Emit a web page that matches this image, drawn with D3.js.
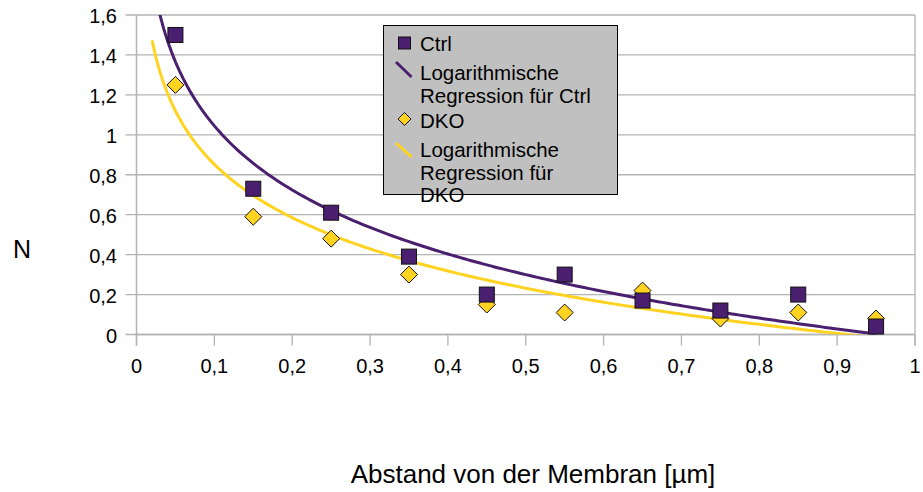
<!DOCTYPE html>
<html><head><meta charset="utf-8">
<script src="https://cdn.jsdelivr.net/npm/d3@7"></script>
<style>body{margin:0;background:#fff}svg{display:block;font-family:"Liberation Sans",Arial,sans-serif}</style>
</head><body><svg id="c" width="923" height="492"></svg>
<script>
const xValues = [0.05,0.15,0.25,0.35,0.45,0.55,0.65,0.75,0.85,0.95];
const ctrlValues = [1.50,0.73,0.61,0.39,0.20,0.30,0.17,0.12,0.20,0.04];
const dkoValues = [1.25,0.59,0.48,0.30,0.15,0.11,0.22,0.08,0.11,0.08];
const xTicks = [0,0.1,0.2,0.3,0.4,0.5,0.6,0.7,0.8,0.9,1];
const yTicks = [0,0.2,0.4,0.6,0.8,1,1.2,1.4,1.6];
const regRange = [0.02,0.95];
const legendLabels = [["Ctrl"],["Logarithmische","Regression für Ctrl"],["DKO"],["Logarithmische","Regression für","DKO"]];

const PURPLE="#4b1f6f", YELLOW="#ffd320", GRID="#b3b3b3";
const svg=d3.select("#c");
const L=136.5,R=915,T=15,B=334.5;
const x=d3.scaleLinear().domain([0,1]).range([L,R]);
const y=d3.scaleLinear().domain([0,1.6]).range([B,T]);
const fmt=v=>String(+v.toFixed(1)).replace(".",",");

// grid
svg.append("g").selectAll("line").data(yTicks).join("line")
 .attr("x1",L-11).attr("x2",R).attr("y1",d=>y(d)).attr("y2",d=>y(d))
 .attr("stroke",GRID).attr("stroke-width",1.3);
// frame lines
svg.append("line").attr("x1",L).attr("x2",L).attr("y1",T).attr("y2",B+11).attr("stroke",GRID).attr("stroke-width",1.5);
svg.append("line").attr("x1",R).attr("x2",R).attr("y1",T).attr("y2",B+11).attr("stroke",GRID).attr("stroke-width",1.3);
svg.append("line").attr("x1",L).attr("x2",R).attr("y1",B).attr("y2",B).attr("stroke",GRID).attr("stroke-width",1.5);
svg.append("g").selectAll("line").data(xTicks).join("line")
 .attr("x1",d=>x(d)).attr("x2",d=>x(d)).attr("y1",B).attr("y2",B+11)
 .attr("stroke",GRID).attr("stroke-width",1.3);
// tick labels
svg.append("g").selectAll("text").data(xTicks).join("text")
 .attr("x",d=>x(d)).attr("y",373).attr("text-anchor","middle")
 .attr("font-size",20).text(fmt);
svg.append("g").selectAll("text").data(yTicks).join("text")
 .attr("x",117).attr("y",d=>y(d)+8).attr("text-anchor","end")
 .attr("font-size",20).text(fmt);
// titles
svg.append("text").attr("x",13).attr("y",258).attr("font-size",25).text("N");
svg.append("text").attr("x",533).attr("y",483).attr("text-anchor","middle").attr("font-size",26).text("Abstand von der Membran [µm]");

// regression
function logReg(xs,ys){
  const lx=xs.map(Math.log), mx=d3.mean(lx), my=d3.mean(ys);
  let sxy=0,sxx=0; lx.forEach((v,i)=>{sxy+=(v-mx)*(ys[i]-my);sxx+=(v-mx)*(v-mx);});
  const b=sxy/sxx, a=my-b*mx; return t=>a+b*Math.log(t);
}
svg.append("clipPath").attr("id","pc").append("rect").attr("x",L).attr("y",T).attr("width",R-L).attr("height",B-T);
const samples=d3.range(regRange[0],regRange[1]+1e-9,0.005);
const lineGen=d3.line().x(d=>x(d[0])).y(d=>y(d[1]));
const gl=svg.append("g").attr("clip-path","url(#pc)");
[[ctrlValues,PURPLE],[dkoValues,YELLOW]].forEach(([vals,col])=>{
  const f=logReg(xValues,vals);
  gl.append("path").attr("d",lineGen(samples.map(t=>[t,f(t)]))).attr("fill","none")
   .attr("stroke",col).attr("stroke-width",3);
});
// points
const pts=xValues.map((v,i)=>({x:v,c:ctrlValues[i],d:dkoValues[i]}));
svg.append("g").selectAll("path").data(pts).join("path")
 .attr("transform",d=>`translate(${x(d.x)},${y(d.d)})`)
 .attr("d","M0,-8.5L8.5,0L0,8.5L-8.5,0Z").attr("fill",YELLOW).attr("stroke","#111").attr("stroke-width",1);
svg.append("g").selectAll("rect").data(pts).join("rect")
 .attr("x",d=>x(d.x)-7.5).attr("y",d=>y(d.c)-7.5).attr("width",15).attr("height",15)
 .attr("fill",PURPLE).attr("stroke","#111").attr("stroke-width",1);

// legend
const lg=svg.append("g");
lg.append("rect").attr("x",383.5).attr("y",25.5).attr("width",234).attr("height",169).attr("fill","#c0c0c0").attr("stroke","#000").attr("stroke-width",1);
lg.append("rect").attr("x",398.5).attr("y",37).attr("width",12).attr("height",12).attr("fill",PURPLE).attr("stroke","#111");
lg.append("line").attr("x1",396).attr("y1",62).attr("x2",411.5).attr("y2",77).attr("stroke",PURPLE).attr("stroke-width",3);
lg.append("path").attr("transform","translate(404.5,119)").attr("d","M0,-6.5L6.5,0L0,6.5L-6.5,0Z").attr("fill",YELLOW).attr("stroke","#111");
lg.append("line").attr("x1",396).attr("y1",143).attr("x2",411.5).attr("y2",157).attr("stroke",YELLOW).attr("stroke-width",3);
const baselines=[50.5,80,128,157];
legendLabels.forEach((lines,i)=>{
  const t=lg.append("text").attr("x",420).attr("y",baselines[i]).attr("font-size",20.5);
  lines.forEach((s,j)=>t.append("tspan").attr("x",420).attr("dy",j?22.5:0).text(s));
});
</script></body></html>
